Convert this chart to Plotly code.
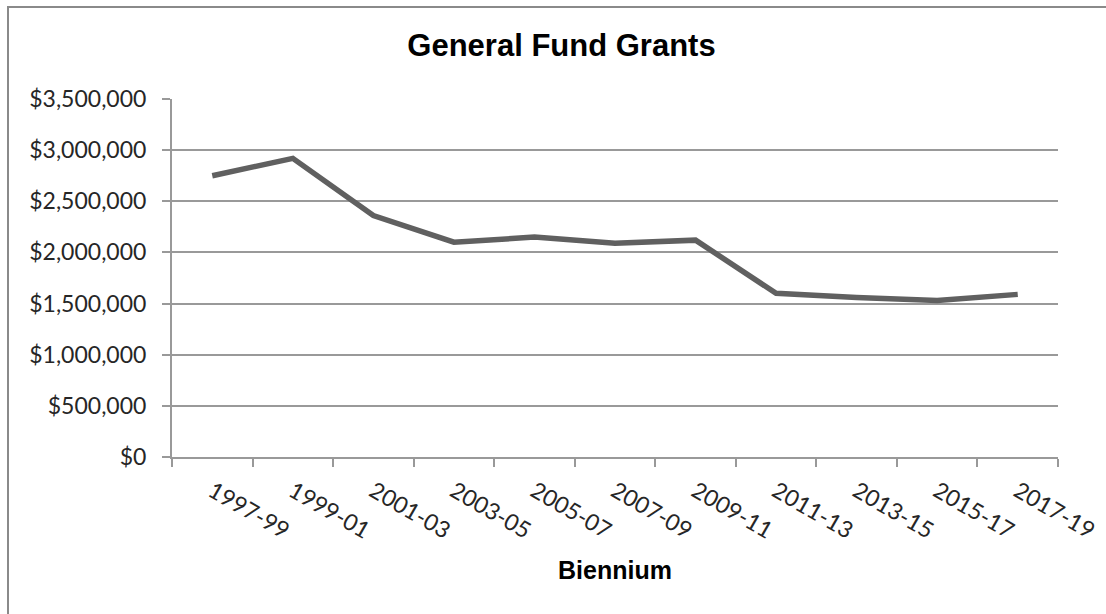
import plotly.graph_objects as go

# General Fund grants per biennium
biennia = ["1997-99", "1999-01", "2001-03", "2003-05", "2005-07", "2007-09",
           "2009-11", "2011-13", "2013-15", "2015-17", "2017-19"]
grants = [2750000, 2920000, 2360000, 2100000, 2150000, 2090000,
          2120000, 1600000, 1560000, 1530000, 1590000]
y_ticks = [0, 500000, 1000000, 1500000, 2000000, 2500000, 3000000, 3500000]

W, H = 1106, 614
L, R, T, B = 172, 48, 99, 157
plot_w = W - L - R
plot_h = H - T - B

def px_to_paper_x(px):
    return (px - L) / plot_w

def px_to_paper_y(py):
    return (H - B - py) / plot_h

GRID = "#999999"
TICK_FONT = dict(family="Lato", size=23, color="#262626")

fig = go.Figure()
fig.add_trace(go.Scatter(
    x=biennia, y=grants, mode="lines",
    line=dict(color="#606060", width=5.5),
    hoverinfo="x+y", showlegend=False,
))

fig.update_layout(
    width=W, height=H,
    margin=dict(l=L, r=R, t=T, b=B, autoexpand=False),
    paper_bgcolor="white", plot_bgcolor="white",
    title=dict(
        text="<b>General Fund Grants</b>",
        font=dict(family="Liberation Sans", size=31, color="#000000"),
        xref="paper", x=px_to_paper_x(561.5), xanchor="center",
        yref="container", y=1 - 45 / H, yanchor="middle",
    ),
    xaxis=dict(
        type="category", tickson="boundaries",
        showgrid=False, showline=True, linecolor=GRID, linewidth=2,
        ticks="outside", ticklen=8, tickwidth=2, tickcolor=GRID,
        tickangle=30, tickfont=TICK_FONT, ticklabelstandoff=10,
        range=[-0.5, len(biennia) - 0.5], fixedrange=True,
    ),
    yaxis=dict(
        range=[0, 3500000], tickvals=y_ticks, tickformat="$,.0f",
        showgrid=True, gridcolor=GRID, gridwidth=2,
        showline=True, linecolor=GRID, linewidth=2,
        ticks="outside", ticklen=8, tickwidth=2, tickcolor=GRID,
        tickfont=TICK_FONT, ticklabelstandoff=11,
        zeroline=False, fixedrange=True,
    ),
)

fig.add_annotation(
    text="<b>Biennium</b>", xref="paper", yref="paper",
    x=0.5, y=px_to_paper_y(570), xanchor="center", yanchor="middle",
    showarrow=False, font=dict(family="Liberation Sans", size=25, color="#000000"),
)

# Chart-area border (left and top edges lie inside the page)
fig.add_shape(
    type="rect", xref="paper", yref="paper", layer="below",
    x0=px_to_paper_x(8), x1=px_to_paper_x(1115),
    y0=px_to_paper_y(640), y1=px_to_paper_y(7),
    line=dict(color="#8a8a8a", width=2), fillcolor="rgba(0,0,0,0)",
)

fig.write_html("out.html")
